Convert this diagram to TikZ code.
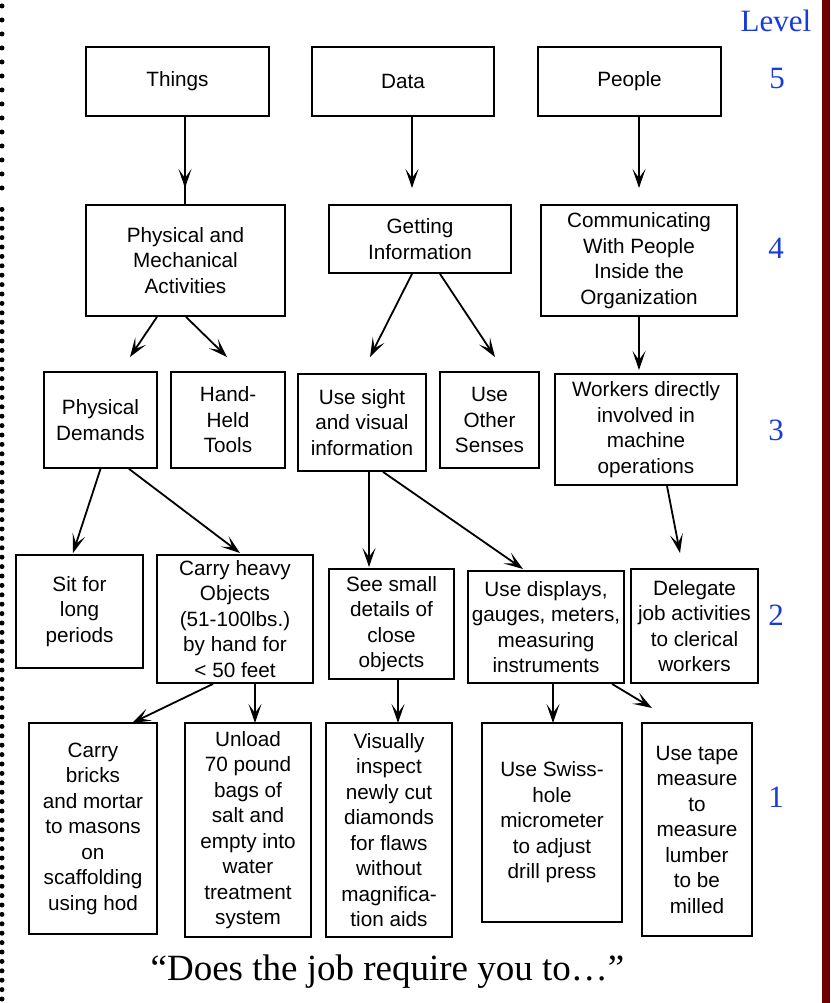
\documentclass[tikz,border=0pt]{standalone}
\usepackage{fontspec}
\setmainfont{Liberation Sans}
\newfontfamily\timesfont{Liberation Serif}
\usetikzlibrary{arrows.meta}
\definecolor{barred}{RGB}{112,0,0}
\definecolor{lvlblue}{RGB}{25,60,215}
\tikzset{
    box/.style={draw, line width=1.8pt, inner sep=0pt, align=center,
        font=\fontsize{20.7}{25.5}\selectfont},
    arr/.style={line width=1.8pt, -{Stealth[length=19pt, width=13pt, inset=9pt]}},
    lvl/.style={text=lvlblue, anchor=base, font=\timesfont\fontsize{31}{36}\selectfont}
}
\begin{document}
\begin{tikzpicture}[x=1pt, y=-1pt]
    \useasboundingbox (0,0) rectangle (830,1003);

    % 1. Viền chấm bên trái và thanh đỏ bên phải
    \foreach \y in {6,20,...,200} \fill (2,\y) circle (2.5pt);
    \foreach \y in {209.4,218.8,...,1000} \fill (2,\y) circle (2.5pt);
    \fill[barred] (822,0) rectangle (830,1003);

    % 2. Cấp 5
    \node[box, minimum width=183, minimum height=69] (things) at (177.5,81.5) {Things};
    \node[box, minimum width=182, minimum height=69] (data) at (403,81.5) {Data};
    \node[box, minimum width=183, minimum height=69] (people) at (629.5,81.5) {People};

    % 3. Cấp 4
    \node[box, minimum width=199, minimum height=111] (phys) at (185.5,260.5)
        {Physical and\\Mechanical\\Activities};
    \node[box, minimum width=182, minimum height=68] (getinfo) at (420,239)
        {Getting\\Information};
    \node[box, minimum width=196, minimum height=111] (commun) at (639,260.5)
        {Communicating\\With People\\Inside the\\Organization};

    % 4. Cấp 3
    \node[box, minimum width=113, minimum height=96] (physdem) at (100.5,420)
        {Physical\\Demands};
    \node[box, minimum width=114, minimum height=96] (handheld) at (228,420)
        {Hand-\\Held\\Tools};
    \node[box, minimum width=128, minimum height=97] (usesight) at (362,422.5)
        {Use sight\\and visual\\information};
    \node[box, minimum width=99, minimum height=96] (senses) at (489.5,420)
        {Use\\Other\\Senses};
    \node[box, minimum width=182, minimum height=111] (workers) at (646,429.5)
        {Workers directly\\involved in\\machine\\operations};

    % 5. Cấp 2
    \node[box, minimum width=127, minimum height=113] (sit) at (79.5,611.5)
        {Sit for\\long\\periods};
    \node[box, minimum width=156, minimum height=128] (heavy) at (235,619)
        {Carry heavy\\Objects\\(51-100lbs.)\\by hand for\\< 50 feet};
    \node[box, minimum width=125, minimum height=110] (small) at (391.5,624)
        {See small\\details of\\close\\objects};
    \node[box, minimum width=156, minimum height=112] (displays) at (546,627)
        {Use displays,\\gauges, meters,\\measuring\\instruments};
    \node[box, minimum width=127, minimum height=114] (delegate) at (694.5,626)
        {Delegate\\job activities\\to clerical\\workers};

    % 6. Cấp 1
    \node[box, minimum width=128, minimum height=211] (bricks) at (93,828.5)
        {Carry\\bricks\\and mortar\\to masons\\on\\scaffolding\\using hod};
    \node[box, minimum width=126, minimum height=214] (unload) at (248,830)
        {Unload\\70 pound\\bags of\\salt and\\empty into\\water\\treatment\\system};
    \node[box, minimum width=126, minimum height=214] (inspect) at (389,830)
        {Visually\\inspect\\newly cut\\diamonds\\for flaws\\without\\magnifica-\\tion aids};
    \node[box, minimum width=140, minimum height=199] (swiss) at (552,822.5)
        {Use Swiss-\\hole\\micrometer\\to adjust\\drill press};
    \node[box, minimum width=110, minimum height=213] (tape) at (697,829.5)
        {Use tape\\measure\\to\\measure\\lumber\\to be\\milled};

    % 7. Các mũi tên
    % 5 -> 4
    \coordinate (tipphys) at (185,188);
    \draw[line width=1.8pt] (things.south -| tipphys) -- (phys.north -| tipphys);
    \draw[arr] (things.south -| tipphys) -- (tipphys);
    \coordinate (tipinfo) at (412,188);
    \draw[arr] (data.south -| tipinfo) -- (tipinfo);
    \coordinate (tipcomm) at (639,188);
    \draw[arr] (people.south -| commun.north) -- (tipcomm);
    % 4 -> 3
    \coordinate (tipdem) at (130,357);
    \draw[arr] ([xshift=-28.5]phys.south) -- (tipdem);
    \coordinate (tiptool) at (227,357);
    \draw[arr] ([xshift=0.5]phys.south) -- (tiptool);
    \coordinate (tipsight) at (370,357);
    \draw[arr] ([xshift=-8]getinfo.south) -- (tipsight);
    \coordinate (tipsense) at (495,357);
    \draw[arr] ([xshift=20]getinfo.south) -- (tipsense);
    \coordinate (tipwork) at (639,370);
    \draw[arr] (commun.south) -- (tipwork);
    % 3 -> 2
    \coordinate (tipsit) at (73,553);
    \draw[arr] (physdem.south) -- (tipsit);
    \coordinate (tipheavy) at (240,553);
    \draw[arr] ([xshift=28.5]physdem.south) -- (tipheavy);
    \coordinate (tipsmall) at (369,567);
    \draw[arr] ([xshift=7]usesight.south) -- (tipsmall);
    \coordinate (tipdisp) at (523,569);
    \draw[arr] ([xshift=21]usesight.south) -- (tipdisp);
    \coordinate (tipdel) at (680,553);
    \draw[arr] ([xshift=21]workers.south) -- (tipdel);
    % 2 -> 1
    \coordinate (tipbrick) at (132,723);
    \draw[arr] ([xshift=-22]heavy.south) -- (tipbrick);
    \coordinate (tipunload) at (255,723);
    \draw[arr] ([xshift=20]heavy.south) -- (tipunload);
    \coordinate (tipinsp) at (398,723);
    \draw[arr] ([xshift=6.5]small.south) -- (tipinsp);
    \coordinate (tipswiss) at (553,723);
    \draw[arr] ([xshift=7]displays.south) -- (tipswiss);
    \coordinate (tiptape) at (652,708);
    \draw[arr] ([xshift=66]displays.south) -- (tiptape);

    % 8. Nhãn cấp và câu hỏi
    \node[lvl] (lvltitle) at (776,32) {Level};
    \node[lvl] (lvl5) at (777,89) {5};
    \node[lvl] (lvl4) at (776,258) {4};
    \node[lvl] (lvl3) at (776,440) {3};
    \node[lvl] (lvl2) at (776,625) {2};
    \node[lvl] (lvl1) at (776,807) {1};
    \node[anchor=base, font=\timesfont\fontsize{37}{44}\selectfont] (question) at (387.5,980)
        {“Does the job require you to…”};
\end{tikzpicture}
\end{document}
